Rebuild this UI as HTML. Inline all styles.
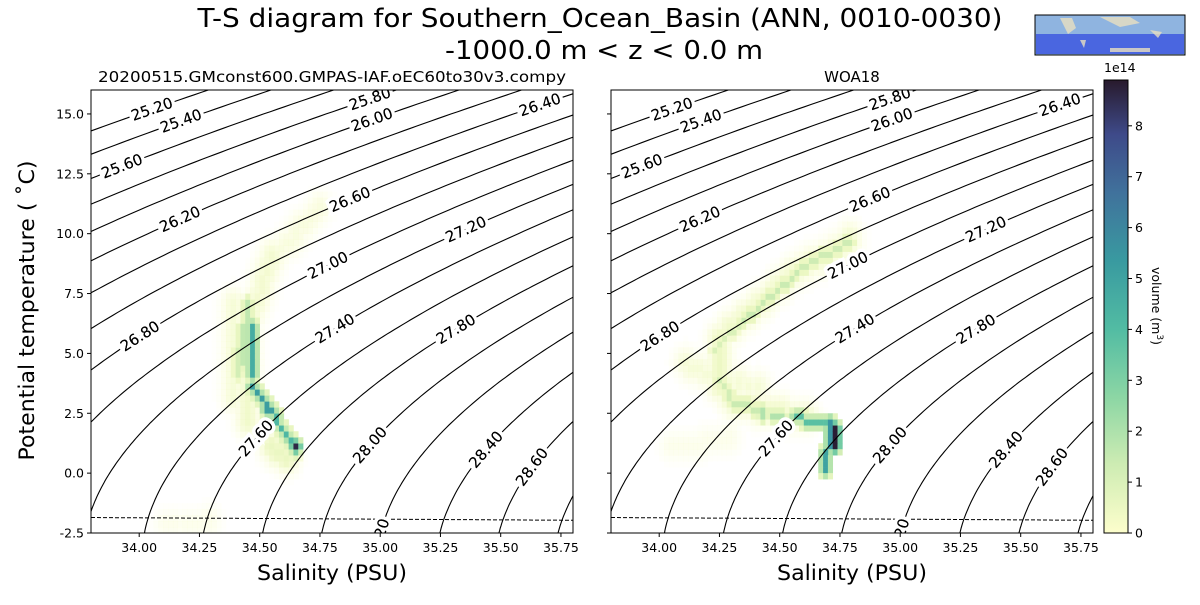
<!DOCTYPE html>
<html><head><meta charset="utf-8">
<style>
body{margin:0;background:#fff;}
svg{font-family:"DejaVu Sans","Liberation Sans",sans-serif;}
</style></head>
<body>
<svg id="fig" width="1200" height="600" viewBox="0 0 1200 600" xmlns="http://www.w3.org/2000/svg">
<defs>
<clipPath id="clipL"><rect x="91" y="90" width="482" height="443"/></clipPath>
<clipPath id="clipR"><rect x="611" y="90" width="482" height="443"/></clipPath>
<linearGradient id="cbgrad" x1="0" y1="1" x2="0" y2="0">
<stop offset="0" stop-color="rgb(253,254,204)"/>
<stop offset="0.15" stop-color="rgb(206,236,179)"/>
<stop offset="0.3" stop-color="rgb(140,214,164)"/>
<stop offset="0.45" stop-color="rgb(82,188,163)"/>
<stop offset="0.6" stop-color="rgb(57,154,160)"/>
<stop offset="0.75" stop-color="rgb(64,114,156)"/>
<stop offset="0.88" stop-color="rgb(62,74,137)"/>
<stop offset="1" stop-color="rgb(40,26,44)"/>
</linearGradient>
</defs>
<text x="600" y="27" font-size="26" text-anchor="middle" textLength="805" lengthAdjust="spacingAndGlyphs">T-S diagram for Southern_Ocean_Basin (ANN, 0010-0030)</text>
<text x="604" y="59" font-size="26" text-anchor="middle" textLength="318" lengthAdjust="spacingAndGlyphs">-1000.0 m &lt; z &lt; 0.0 m</text>
<g>
<rect x="1035" y="15" width="150" height="40" fill="#8fb4e0" stroke="#000"/>
<rect x="1036" y="34" width="148" height="20" fill="#4a66e0"/>
<path d="M1060 18 l12 0 l4 10 l-8 6 z M1100 17 l30 0 l10 6 l-20 4 z M1150 30 l12 2 l-4 6 z M1080 40 l6 0 l-2 8 z M1110 48 l40 0 l0 4 l-40 0z" fill="#e8e0c0" opacity="0.8"/>
</g>
<g id="axL"></g>
<g id="axR"></g>
<g id="cbar"></g>
</svg>
<script>
const NS="http://www.w3.org/2000/svg";
const levels=[25.2,25.4,25.6,25.8,26.0,26.2,26.4,26.6,26.8,27.0,27.2,27.4,27.6,27.8,28.0,28.2,28.4,28.6,28.8];
const xTicks=[34.00,34.25,34.50,34.75,35.00,35.25,35.50,35.75];
const yTicks=[-2.5,0.0,2.5,5.0,7.5,10.0,12.5,15.0];
const cbTicks=[0,1,2,3,4,5,6,7,8];
const labelLevels=[25.2,25.4,25.6,25.8,26.0,26.2,26.4,26.6,26.8,27.0,27.2,27.4,27.6,27.8,28.0,28.2,28.4,28.6];
const labelPx=[61,90,31,279,281,89,449,259,49,237,375,244,165,365,279,291,395,441];
// histogram segments [S1,T1,S2,T2,value(1e14 m^3)]
const haloL=[[34.30,-2.0,34.10,-2.2,0.15],[34.45,2.0,34.45,6.0,0.4],[34.45,6.0,34.55,9.0,0.35],[34.55,9.0,34.75,11.0,0.25],[34.38,3.0,34.38,7.0,0.3],[34.55,1.0,34.62,0.5,0.5]];
const coreL=[[34.42,4.5,34.45,7.0,1.6],[34.40,4.0,34.40,5.0,1.2],[34.47,6.0,34.47,4.0,4.6],[34.48,3.7,34.55,2.5,5.2],[34.55,2.5,34.64,1.2,4.2],[34.58,2.0,34.64,0.8,2.0],[34.66,1.0,34.66,1.0,8.6]];
const haloR=[[34.80,9.8,34.55,8.3,0.35],[34.55,8.3,34.30,6.0,0.4],[34.25,5.5,34.25,3.5,0.45],[34.30,3.0,34.60,2.3,0.4],[34.10,4.5,34.40,3.5,0.3],[34.05,1.0,34.30,1.5,0.15]];
const coreR=[[34.79,9.7,34.56,8.3,1.3],[34.56,8.3,34.34,6.4,1.4],[34.34,6.4,34.23,5.1,1.0],[34.25,3.9,34.31,2.9,1.2],[34.31,2.9,34.42,2.6,1.4],[34.42,2.5,34.58,2.4,1.9],[34.58,2.3,34.69,2.1,3.8],[34.72,1.9,34.72,1.1,8.8],[34.70,2.1,34.70,1.2,5.5],[34.69,0.9,34.68,0.2,5.0]];

const S0=33.8,S1=35.8,T0=-2.5,T1=16;
function rho(S,T){const rw=999.842594+6.793952e-2*T-9.095290e-3*T*T+1.001685e-4*T**3-1.120083e-6*T**4+6.536332e-9*T**5;
return rw+S*(0.824493-4.0899e-3*T+7.6438e-5*T*T-8.2467e-7*T**3+5.3875e-9*T**4)+S**1.5*(-5.72466e-3+1.0227e-4*T-1.6546e-6*T*T)+4.8314e-4*S*S-1000;}
function solveS(lv,T){let a=25,b=45;for(let i=0;i<50;i++){const m=(a+b)/2;if(rho(m,T)<lv)a=m;else b=m;}return (a+b)/2;}
function solveT(lv,S){let a=-5,b=30;for(let i=0;i<50;i++){const m=(a+b)/2;if(rho(S,m)>lv)a=m;else b=m;}return (a+b)/2;}
function cmap(v){const st=[[0,253,254,204],[0.15,206,236,179],[0.3,140,214,164],[0.45,82,188,163],[0.6,57,154,160],[0.75,64,114,156],[0.88,62,74,137],[1,40,26,44]];
let t=Math.max(0,Math.min(1,v/8.9));for(let i=1;i<st.length;i++){if(t<=st[i][0]){const f=(t-st[i-1][0])/(st[i][0]-st[i-1][0]);return `rgb(${[1,2,3].map(k=>Math.round(st[i-1][k]+f*(st[i][k]-st[i-1][k]))).join(',')})`;}}return 'rgb(40,26,44)';}
function el(tag,attrs,parent){const e=document.createElementNS(NS,tag);for(const k in attrs)e.setAttribute(k,attrs[k]);parent.appendChild(e);return e;}

function panel(g,x0,clipId,title,halo,core,showY){
 const y0=90,W=482,H=443;
 const sx=S=>x0+(S-S0)/(S1-S0)*W, sy=T=>y0+(T1-T)/(T1-T0)*H;
 const cg=el('g',{'clip-path':`url(#${clipId})`},g);
 
 
 const dS=0.02,dT=0.25,cells={};
 function addSegs(segs,spread,falloff){segs.forEach(s=>{const n=Math.max(1,Math.ceil(Math.max(Math.abs(s[2]-s[0])/dS,Math.abs(s[3]-s[1])/dT)));
  for(let i=0;i<=n;i++){const S=s[0]+(s[2]-s[0])*i/n,T=s[1]+(s[3]-s[1])*i/n;
   for(let a=-spread;a<=spread;a++)for(let b=-spread;b<=spread;b++){const fa=Math.exp(-(a*a+b*b)/falloff);
    const key=Math.floor(S/dS+a)+','+Math.floor(T/dT+b);const v=s[4]*fa;cells[key]=Math.max(cells[key]||0,v);}}});}
 addSegs(halo,5,6);addSegs(core,1,1.0);
 for(const k in cells){const [i,j]=k.split(',').map(Number);const v=cells[k];
  if(v<0.02)continue;
  const r=el('rect',{x:sx(i*dS),y:sy((j+1)*dT),width:sx((i+1)*dS)-sx(i*dS)+0.3,height:sy(j*dT)-sy((j+1)*dT)+0.3,fill:cmap(v),'fill-opacity':Math.min(1,v*2.2).toFixed(2)},cg);
  
  }
 levels.forEach(lv=>{let pts=[];for(let T=-4;T<=18;T+=0.1){pts.push(sx(solveS(lv,T)).toFixed(1)+','+sy(T).toFixed(1));}
  const p=el('polyline',{points:pts.join(' '),fill:'none',stroke:'#000','stroke-width':1.1},cg);
  
  });
 let fp=[];for(let S=S0;S<=S1+0.001;S+=0.05){const T=-0.0575*S+1.710523e-3*S**1.5-2.154996e-4*S*S;fp.push(sx(S).toFixed(1)+','+sy(T).toFixed(1));}
 const fl=el('polyline',{points:fp.join(' '),fill:'none',stroke:'#000','stroke-width':1,'stroke-dasharray':'4,2'},cg);
 
 
 labelLevels.forEach((lv,i)=>{const px=x0+labelPx[i];const S=S0+(px-x0)/W*(S1-S0);const T=solveT(lv,S);
  const py=sy(T);const S2=S+0.01,T2=solveT(lv,S2);let ang=Math.atan2(sy(T2)-py,sx(S2)-px)*180/Math.PI;
  const lg=el('g',{transform:`translate(${px},${py}) rotate(${ang})`},cg);
  
  
  const txt=lv===28.2?'20':lv.toFixed(2);
  const t=el('text',{x:0,y:5,'font-size':15,'text-anchor':'middle',stroke:'#fff','stroke-width':7,'paint-order':'stroke'},lg);t.textContent=txt;
  const t2=el('text',{x:0,y:5,'font-size':15,'text-anchor':'middle'},lg);t2.textContent=txt;});
 const fr=el('rect',{x:x0,y:y0,width:W,height:H,fill:'none',stroke:'#000','stroke-width':1},g);
 
 
 xTicks.forEach(v=>{const x=sx(v);el('line',{x1:x,x2:x,y1:y0+H,y2:y0+H+4,stroke:'#000'},g);
  const t=el('text',{x:x,y:y0+H+19,'font-size':12.5,'text-anchor':'middle'},g);t.textContent=v.toFixed(2);
  
  });
 yTicks.forEach(v=>{const y=sy(v);el('line',{x1:x0-4,x2:x0,y1:y,y2:y,stroke:'#000'},g);
  if(showY){const t=el('text',{x:x0-7,y:y+4.5,'font-size':12.5,'text-anchor':'end'},g);t.textContent=v.toFixed(1);
  
  }});
 const xt=el('text',{x:x0+W/2,y:580,'font-size':21,'text-anchor':'middle',textLength:150,lengthAdjust:'spacingAndGlyphs'},g);xt.textContent='Salinity (PSU)';
 
 
 const tattrs={x:x0+W/2,y:82,'font-size':15,'text-anchor':'middle'};
 if(title.length>10){tattrs.textLength=468;tattrs.lengthAdjust='spacingAndGlyphs';}
 const tt=el('text',tattrs,g);tt.textContent=title;
 
 
 if(showY){const yt=el('text',{x:0,y:0,'font-size':21,'text-anchor':'middle',textLength:300,lengthAdjust:'spacingAndGlyphs',transform:`translate(34,${y0+H/2-1}) rotate(-90)`},g);
  yt.textContent='Potential temperature ( ˚C)';
  
  }
}
panel(document.getElementById('axL'),91,'clipL','20200515.GMconst600.GMPAS-IAF.oEC60to30v3.compy',haloL,coreL,true);
panel(document.getElementById('axR'),611,'clipR','WOA18',haloR,coreR,false);
const cb=document.getElementById('cbar');
const cx=1104,cw=24,cyT=80,cyB=533,vmax=8.9;
el('rect',{x:cx,y:cyT,width:cw,height:cyB-cyT,fill:'url(#cbgrad)',stroke:'#000'},cb);
cbTicks.forEach(v=>{const y=cyB-(v/vmax)*(cyB-cyT);el('line',{x1:cx+cw,x2:cx+cw+4,y1:y,y2:y,stroke:'#000'},cb);
 const t=el('text',{x:cx+cw+7,y:y+4.5,'font-size':12.5},cb);t.textContent=v;
 
 });
const ex=el('text',{x:1104,y:72,'font-size':12.5},cb);ex.textContent='1e14';


const cl=el('text',{x:0,y:0,'font-size':12.5,'text-anchor':'middle',transform:'translate(1152,306) rotate(90)'},cb);
cl.innerHTML='volume (m<tspan font-size="9" dy="-5">3</tspan><tspan dy="5">)</tspan>';


</script>
</body></html>
